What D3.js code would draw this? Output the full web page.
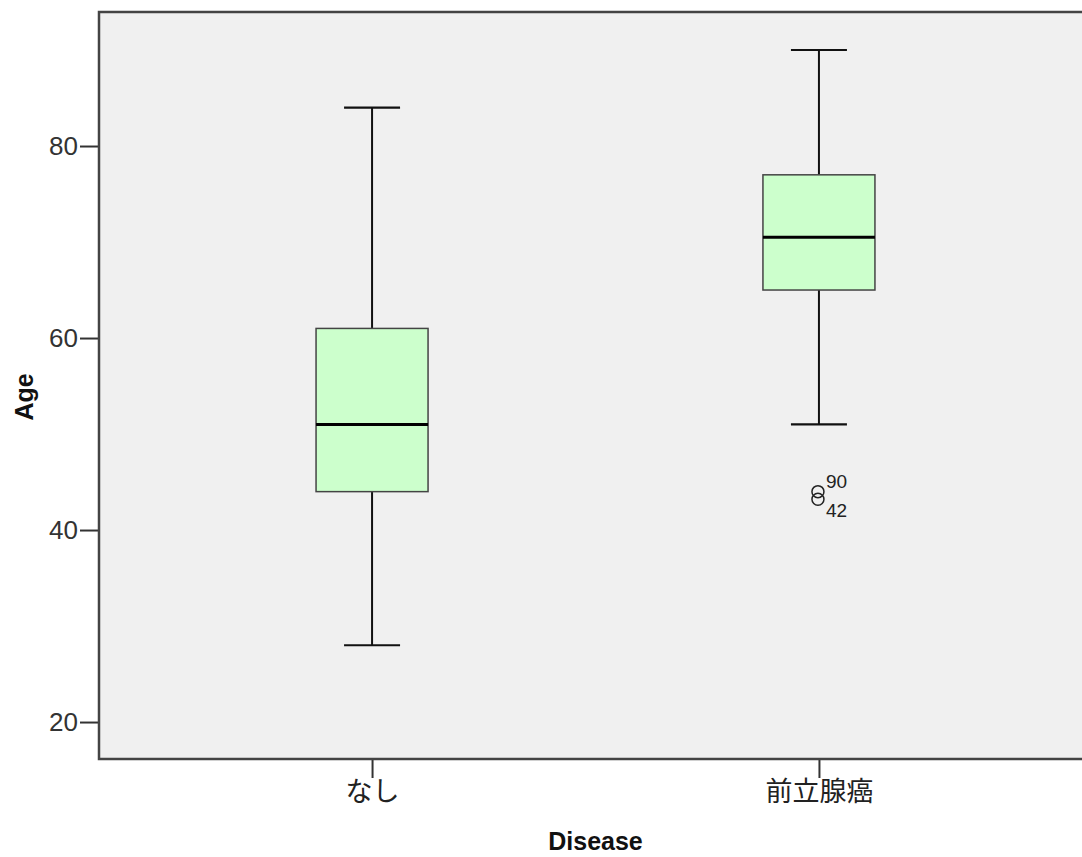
<!DOCTYPE html>
<html><head><meta charset="utf-8">
<script src="https://cdn.jsdelivr.net/npm/d3@7"></script>
<style>body{margin:0;background:#fff}svg{display:block}</style>
</head><body><svg id="c" width="1082" height="857"></svg>
<script>
const categories = ["なし", "前立腺癌"];
const whiskerLow = [28, 51];
const q1 = [44, 65];
const median = [51, 70.5];
const q3 = [61, 77];
const whiskerHigh = [84, 90];
const outlierCat = ["前立腺癌", "前立腺癌"];
const outlierVal = [44, 43.2];
const outlierLabel = ["90", "42"];
const yTicks = [20, 40, 60, 80];

const svg = d3.select("#c");
const L = 99, T = 12, R = 1092, B = 759;
const font = "'Liberation Sans', Arial, sans-serif";
const y = d3.scaleLinear().domain([16.15, 93.96]).range([B, T]);
const x = d3.scalePoint().domain(categories).range([L, R]).padding(0.611);
const boxHalf = 56, capHalf = 28;

svg.append("rect").attr("x", L).attr("y", T).attr("width", R - L).attr("height", B - T).attr("fill", "#f0f0f0");

const g = svg.append("g");
categories.forEach((c, i) => {
  const cx = x(c);
  g.append("line").attr("x1", cx).attr("x2", cx).attr("y1", y(whiskerHigh[i])).attr("y2", y(q3[i])).attr("stroke", "#111").attr("stroke-width", 2);
  g.append("line").attr("x1", cx).attr("x2", cx).attr("y1", y(q1[i])).attr("y2", y(whiskerLow[i])).attr("stroke", "#111").attr("stroke-width", 2);
  g.append("line").attr("x1", cx - capHalf).attr("x2", cx + capHalf).attr("y1", y(whiskerHigh[i])).attr("y2", y(whiskerHigh[i])).attr("stroke", "#111").attr("stroke-width", 2.2);
  g.append("line").attr("x1", cx - capHalf).attr("x2", cx + capHalf).attr("y1", y(whiskerLow[i])).attr("y2", y(whiskerLow[i])).attr("stroke", "#111").attr("stroke-width", 2.2);
  g.append("rect").attr("x", cx - boxHalf).attr("y", y(q3[i])).attr("width", 2 * boxHalf).attr("height", y(q1[i]) - y(q3[i]))
    .attr("fill", "#ccffcc").attr("stroke", "#444").attr("stroke-width", 1.5);
  g.append("line").attr("x1", cx - boxHalf).attr("x2", cx + boxHalf).attr("y1", y(median[i])).attr("y2", y(median[i])).attr("stroke", "#000").attr("stroke-width", 3);
});

outlierVal.forEach((v, i) => {
  const cx = x(outlierCat[i]);
  g.append("circle").attr("cx", cx - 1).attr("cy", y(v)).attr("r", 6).attr("fill", "none").attr("stroke", "#222").attr("stroke-width", 1.5);
  g.append("text").attr("x", cx + 7).attr("y", y(v) + (i === 0 ? -4 : 18)).attr("font-family", font).attr("font-size", 19).attr("fill", "#222").text(outlierLabel[i]);
});

// y axis
const ya = svg.append("g").attr("transform", `translate(${L},0)`)
  .call(d3.axisLeft(y).tickValues(yTicks).tickSize(19).tickPadding(2).tickSizeOuter(0));
ya.select(".domain").remove();
ya.selectAll(".tick line").attr("stroke", "#333").attr("stroke-width", 2);
ya.selectAll(".tick text").attr("font-family", font).attr("font-size", 26).attr("fill", "#333");

// x axis
const xa = svg.append("g").attr("transform", `translate(0,${B})`)
  .call(d3.axisBottom(x).tickSize(19).tickPadding(4).tickSizeOuter(0));
xa.select(".domain").remove();
xa.selectAll(".tick line").attr("stroke", "#333").attr("stroke-width", 2);
xa.selectAll(".tick text").attr("font-family", "'Noto Sans CJK JP', sans-serif").attr("font-size", 27).attr("fill", "#222");

// frame
svg.append("path").attr("d", `M${R},${T}H${L}V${B}H${R}`).attr("fill", "none").attr("stroke", "#444").attr("stroke-width", 2.5);

svg.append("text").attr("transform", `translate(33,397) rotate(-90)`).attr("text-anchor", "middle")
  .attr("font-family", font).attr("font-weight", "bold").attr("font-size", 25).attr("fill", "#111").text("Age");
svg.append("text").attr("x", (x(categories[0]) + x(categories[1])) / 2).attr("y", 850).attr("text-anchor", "middle")
  .attr("font-family", font).attr("font-weight", "bold").attr("font-size", 25).attr("fill", "#111").text("Disease");
</script></body></html>
